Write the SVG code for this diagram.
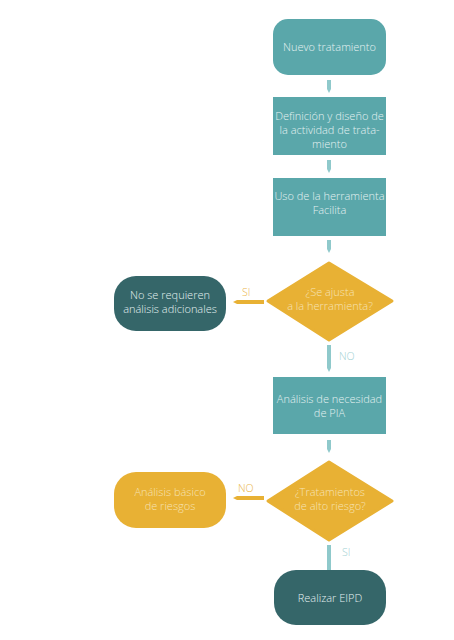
<svg xmlns="http://www.w3.org/2000/svg" width="454" height="640" viewBox="0 0 454 640">
<defs>
<style>
.t{font-family:"Open Sans",Lato,"Liberation Sans",sans-serif;font-size:11px;font-weight:300;text-anchor:middle}
.lt{fill:#e4f1f1}
.ly{fill:#f6e2b4}
.teal{fill:#5aa7aa}
.dark{fill:#356669}
.yel{fill:#e8b134}
.ca{stroke:#8fc9cb;stroke-width:4;fill:none}
.cy{stroke:#e8b134;stroke-width:4;fill:none}
.lab{font-family:"Open Sans",Lato,"Liberation Sans",sans-serif;font-size:10.5px;font-weight:300}
</style>
<marker id="ah" viewBox="0 0 4 4" refX="0" refY="2" markerWidth="1" markerHeight="1" orient="auto" markerUnits="strokeWidth"><path d="M0,0L4,2L0,4Z" fill="#8fc9cb"/></marker>
<marker id="ahy" viewBox="0 0 4 4" refX="0" refY="2" markerWidth="1" markerHeight="1" orient="auto" markerUnits="strokeWidth"><path d="M0,0L4,2L0,4Z" fill="#e8b134"/></marker>
</defs>
<rect width="454" height="640" fill="#ffffff"/>
<g id="connectors">
<path class="ca" d="M329,80V89" marker-end="url(#ah)"/>
<path class="ca" d="M329,160V169" marker-end="url(#ah)"/>
<path class="ca" d="M329,240V249" marker-end="url(#ah)"/>
<path class="ca" d="M329,345V368" marker-end="url(#ah)"/>
<path class="ca" d="M329,440V449" marker-end="url(#ah)"/>
<path class="ca" d="M329,545V571" marker-end="url(#ah)"/>
<path class="cy" d="M264,302H237" marker-end="url(#ahy)"/>
<path class="cy" d="M264,498H237" marker-end="url(#ahy)"/>
<text class="lab" x="242" y="296" fill="#eab54a">SI</text>
<text class="lab" x="339" y="360" fill="#a3d1d3">NO</text>
<text class="lab" x="238" y="492" fill="#eab54a">NO</text>
<text class="lab" x="342" y="556" fill="#a3d1d3">SI</text>
</g>
<g id="n1"><rect class="teal" x="273" y="19" width="113" height="56" rx="15"/><text class="t lt" x="329.5" y="51">Nuevo tratamiento</text></g>
<g id="n2"><rect class="teal" x="273" y="97" width="113" height="58"/><text class="t lt" x="329.5" y="120">Definición y diseño de</text><text class="t lt" x="329.5" y="134">la actividad de trata-</text><text class="t lt" x="329.5" y="148">miento</text></g>
<g id="n3"><rect class="teal" x="273" y="178" width="113" height="58"/><text class="t lt" x="329.5" y="200">Uso de la herramienta</text><text class="t lt" x="329.5" y="214">Facilita</text></g>
<g id="d1"><path class="yel" d="M268,301L329,263L392,301L329,340Z" stroke="#e8b134" stroke-width="3" stroke-linejoin="round"/><text class="t ly" x="330" y="296">¿Se ajusta</text><text class="t ly" x="330" y="310">a la herramienta?</text></g>
<g id="n4"><rect class="dark" x="114" y="276" width="112" height="55" rx="22"/><text class="t lt" x="170" y="299">No se requieren</text><text class="t lt" x="170" y="313">análisis adicionales</text></g>
<g id="n5"><rect class="teal" x="273" y="377" width="113" height="57"/><text class="t lt" x="329.5" y="403">Análisis de necesidad</text><text class="t lt" x="329.5" y="417">de PIA</text></g>
<g id="d2"><path class="yel" d="M268,501L329,462L392,501L329,540Z" stroke="#e8b134" stroke-width="3" stroke-linejoin="round"/><text class="t ly" x="330" y="496">¿Tratamientos</text><text class="t ly" x="330" y="510">de alto riesgo?</text></g>
<g id="n6"><rect class="yel" x="114" y="472" width="112" height="56" rx="22"/><text class="t ly" x="170" y="496">Análisis básico</text><text class="t ly" x="170" y="510">de riesgos</text></g>
<g id="n7"><rect class="dark" x="274" y="570" width="112" height="55" rx="22"/><text class="t lt" x="330" y="602">Realizar EIPD</text></g>
</svg>
